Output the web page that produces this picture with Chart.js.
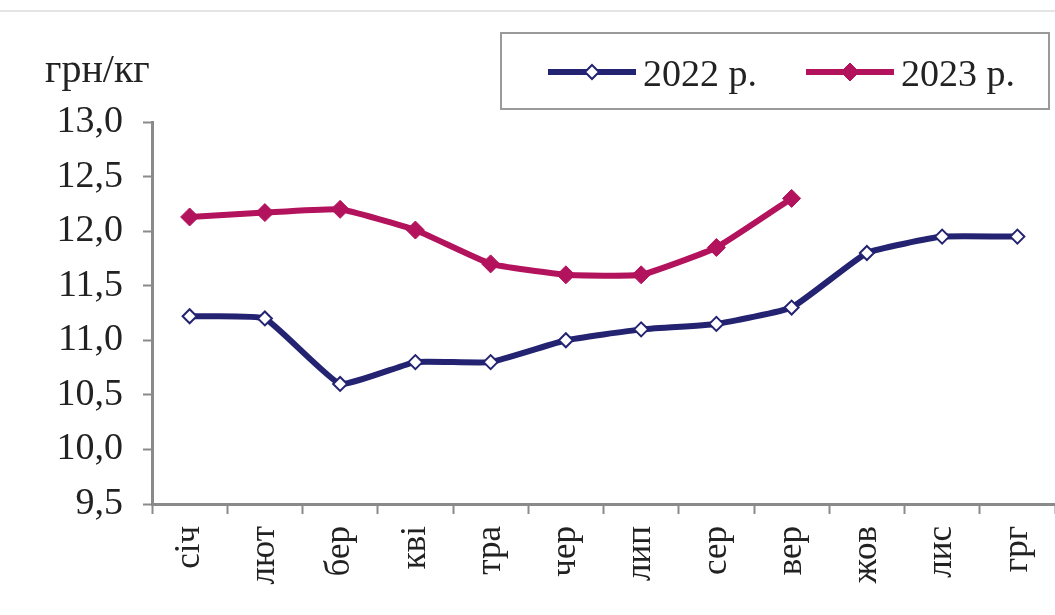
<!DOCTYPE html>
<html>
<head>
<meta charset="utf-8">
<script src="https://cdn.jsdelivr.net/npm/chart.js@4"></script>
<style>
  html, body { margin: 0; padding: 0; background: #fff; overflow: hidden; }
  #wrap { width: 1055px; height: 615px; overflow: hidden; }
</style>
</head>
<body>
<div id="wrap"><canvas id="chLine" width="1065" height="615"></canvas></div>
<script>
let months = ['січ', 'лют', 'бер', 'кві', 'тра', 'чер', 'лип', 'сер', 'вер', 'жов', 'лис', 'грг'];
let values2022 = [11.22, 11.2, 10.6, 10.8, 10.8, 11.0, 11.1, 11.15, 11.3, 11.8, 11.95, 11.95];
let values2023 = [12.13, 12.17, 12.2, 12.01, 11.7, 11.6, 11.6, 11.85, 12.3, null, null, null];
let yTicks = [9.5, 10.0, 10.5, 11.0, 11.5, 12.0, 12.5, 13.0];
let unitLabel = 'грн/кг';

let navy = '#232372';
let crimson = '#b3125c';
let serif = '"Liberation Serif", "Times New Roman", serif';

// title, top rule and boxed legend
const extras = {
    id: 'extras',
    afterDraw(chart) {
        const ctx = chart.ctx;
        ctx.save();
        ctx.strokeStyle = '#e4e4e4';
        ctx.lineWidth = 2;
        ctx.beginPath();
        ctx.moveTo(0, 11);
        ctx.lineTo(1065, 11);
        ctx.stroke();

        ctx.fillStyle = '#222';
        ctx.font = '40px ' + serif;
        ctx.textBaseline = 'alphabetic';
        ctx.fillText(unitLabel, 45, 82);

        // legend box
        ctx.strokeStyle = '#9a9a9a';
        ctx.lineWidth = 2;
        ctx.strokeRect(501, 33, 548, 76);

        const items = [
            { x: 548, ds: chart.data.datasets[0] },
            { x: 806, ds: chart.data.datasets[1] }
        ];
        items.forEach(it => {
            const ds = it.ds;
            ctx.strokeStyle = ds.borderColor;
            ctx.lineWidth = 6;
            ctx.beginPath();
            ctx.moveTo(it.x, 72);
            ctx.lineTo(it.x + 88, 72);
            ctx.stroke();
            const cx = it.x + 44, r = ds.pointRadius;
            ctx.beginPath();
            ctx.moveTo(cx, 72 - r);
            ctx.lineTo(cx + r, 72);
            ctx.lineTo(cx, 72 + r);
            ctx.lineTo(cx - r, 72);
            ctx.closePath();
            ctx.fillStyle = ds.pointBackgroundColor;
            ctx.fill();
            ctx.lineWidth = ds.pointBorderWidth;
            ctx.strokeStyle = ds.pointBorderColor;
            ctx.stroke();
            ctx.fillStyle = '#222';
            ctx.font = '38px ' + serif;
            ctx.fillText(ds.label, it.x + 95, 86);
        });
        ctx.restore();
    }
};

var chLine = document.getElementById('chLine');
new Chart(chLine, {
    type: 'line',
    data: {
        labels: months,
        datasets: [{
            label: '2022 р.',
            data: values2022,
            borderColor: navy,
            borderWidth: 6,
            tension: 0.12,
            pointStyle: 'rectRot',
            pointRadius: 7,
            pointBackgroundColor: '#ffffff',
            pointBorderColor: navy,
            pointBorderWidth: 2
        }, {
            label: '2023 р.',
            data: values2023,
            borderColor: crimson,
            borderWidth: 6,
            tension: 0.12,
            pointStyle: 'rectRot',
            pointRadius: 9,
            pointBackgroundColor: crimson,
            pointBorderColor: crimson,
            pointBorderWidth: 1
        }]
    },
    options: {
        responsive: false,
        animation: false,
        layout: { padding: { top: 122, left: 0, right: 0, bottom: 0 } },
        plugins: {
            legend: { display: false },
            tooltip: { enabled: false }
        },
        scales: {
            x: {
                offset: true,
                afterFit: s => { s.height = 111; s.paddingRight = 0; s.paddingLeft = 0; },
                grid: {
                    offset: true,
                    drawOnChartArea: false,
                    drawTicks: true,
                    tickLength: 10,
                    tickWidth: 2,
                    tickColor: '#8a8a8a'
                },
                border: { color: '#8a8a8a', width: 3 },
                ticks: {
                    minRotation: 90,
                    maxRotation: 90,
                    autoSkip: false,
                    padding: 12,
                    color: '#222',
                    font: { family: serif, size: 35 }
                }
            },
            y: {
                min: 9.5,
                max: 13,
                afterFit: s => { s.width = 152; },
                afterBuildTicks: s => { s.ticks = yTicks.map(v => ({ value: v })); },
                grid: {
                    drawOnChartArea: false,
                    drawTicks: true,
                    tickLength: 9,
                    tickWidth: 2,
                    tickColor: '#8a8a8a'
                },
                border: { color: '#8a8a8a', width: 3 },
                ticks: {
                    padding: 20,
                    color: '#222',
                    font: { family: serif, size: 38 },
                    callback: v => v.toFixed(1).replace('.', ',')
                }
            }
        }
    },
    plugins: [extras]
});
</script>
</body>
</html>
